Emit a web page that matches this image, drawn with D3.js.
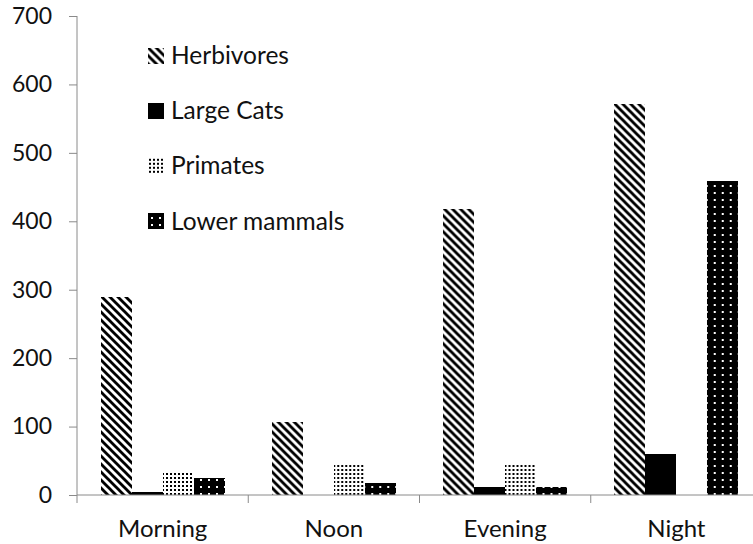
<!DOCTYPE html>
<html>
<head>
<meta charset="utf-8">
<script src="https://cdn.jsdelivr.net/npm/d3@7"></script>
<style>
  html, body { margin: 0; padding: 0; background: #fff; }
  svg { display: block; }
  text { font-family: Lato, "Open Sans", sans-serif; fill: #111; }
</style>
</head>
<body>
<div id="chart"></div>
<script>
const categories = ["Morning", "Noon", "Evening", "Night"];
const seriesNames = ["Herbivores", "Large Cats", "Primates", "Lower mammals"];
const herbivores = [290, 107, 418, 571];
const largeCats = [4, 0, 11, 60];
const primates = [34, 45, 46, 0];
const lowerMammals = [25, 17, 12, 459];
const yTicks = [0, 100, 200, 300, 400, 500, 600, 700];

const seriesValues = [herbivores, largeCats, primates, lowerMammals];
const fills = ["url(#pHerb)", "#000", "url(#pPrim)", "url(#pLower)"];

const W = 753, H = 544;
const svg = d3.select("#chart").append("svg").attr("width", W).attr("height", H);

const defs = svg.append("defs");
// wide downward diagonal
const p1 = defs.append("pattern").attr("id", "pHerb").attr("patternUnits", "userSpaceOnUse")
  .attr("width", 8).attr("height", 8);
p1.append("rect").attr("width", 8).attr("height", 8).attr("fill", "#fff");
p1.append("path").attr("d", "M0,0 L2,0 L8,6 L8,8 L6,8 L0,2 Z M6,0 L8,0 L8,2 Z M0,6 L2,8 L0,8 Z").attr("fill", "#000");
// dotted (primates)
const p2 = defs.append("pattern").attr("id", "pPrim").attr("patternUnits", "userSpaceOnUse")
  .attr("width", 4).attr("height", 4);
p2.append("rect").attr("width", 4).attr("height", 4).attr("fill", "#fff");
p2.append("rect").attr("x", 1).attr("y", 1).attr("width", 2).attr("height", 2).attr("fill", "#000");
// black with white dots (lower mammals)
const p3 = defs.append("pattern").attr("id", "pLower").attr("patternUnits", "userSpaceOnUse")
  .attr("width", 8).attr("height", 7);
p3.append("rect").attr("width", 8).attr("height", 7).attr("fill", "#000");
p3.append("rect").attr("x", 3).attr("y", 3).attr("width", 2).attr("height", 2).attr("fill", "#fff");

const x0 = d3.scaleBand().domain(categories).range([77, 762]).padding(0);
const x1 = d3.scaleBand().domain(seriesNames).range([0, x0.bandwidth()]).paddingInner(0).paddingOuter(0.762);
const y = d3.scaleLinear().domain([0, 700]).range([495, 16]);

const axisColor = "#8a8a8a";

// bars
const groups = svg.append("g").selectAll("g").data(categories).join("g")
  .attr("transform", d => `translate(${x0(d)},0)`);
groups.selectAll("rect")
  .data((c, ci) => seriesNames.map((s, si) => ({ s, si, v: seriesValues[si][ci] })))
  .join("rect")
  .attr("x", d => x1(d.s))
  .attr("width", x1.bandwidth())
  .attr("y", d => y(d.v))
  .attr("height", d => y(0) - y(d.v))
  .attr("fill", d => fills[d.si])
  .attr("shape-rendering", "crispEdges");

// y axis
const yAxis = svg.append("g").attr("transform", "translate(77,0)")
  .call(d3.axisLeft(y).tickValues(yTicks).tickSize(8).tickPadding(17).tickFormat(d3.format("d")));
yAxis.select(".domain").attr("stroke", axisColor).attr("d", "M0,16 V503");
yAxis.selectAll(".tick line").attr("stroke", axisColor);
yAxis.selectAll(".tick text").attr("font-size", 23).attr("fill", "#111").attr("font-family", "Lato");

// x axis
const xAxisG = svg.append("g").attr("transform", "translate(0,495)");
xAxisG.append("line").attr("x1", 77).attr("x2", 762).attr("y1", 0).attr("y2", 0).attr("stroke", axisColor);
const boundaries = categories.map(c => x0(c) + x0.bandwidth());
xAxisG.selectAll("line.tk").data(boundaries).join("line").attr("class", "tk")
  .attr("x1", d => d).attr("x2", d => d).attr("y1", 0).attr("y2", 8).attr("stroke", axisColor);
xAxisG.selectAll("text").data(categories).join("text")
  .attr("x", d => x0(d) + x0.bandwidth() / 2)
  .attr("y", 42)
  .attr("text-anchor", "middle")
  .attr("font-size", 24)
  .text(d => d);

// legend
const legend = svg.append("g");
const legY = [55.5, 110.7, 165.8, 221];
const li = legend.selectAll("g").data(seriesNames).join("g")
  .attr("transform", (d, i) => `translate(148,${legY[i]})`);
li.append("rect").attr("x", 0).attr("y", -8).attr("width", 16).attr("height", 16)
  .attr("fill", (d, i) => fills[i]).attr("shape-rendering", "crispEdges");
li.append("text").attr("x", 23).attr("y", 0).attr("dy", "0.35em").attr("font-size", 24.5).text(d => d);
</script>
</body>
</html>
